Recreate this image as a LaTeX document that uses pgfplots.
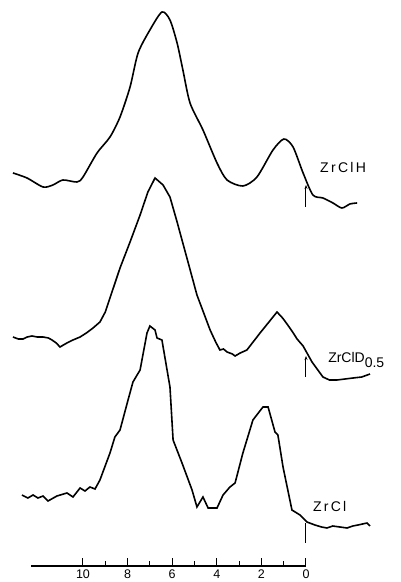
\documentclass[border=0pt]{standalone}
\usepackage{pgfplots}
\pgfplotsset{compat=1.18}
\usepackage{fontspec}
\setmainfont{Liberation Sans}
\newfontfamily\lblfont[LetterSpace=16]{Liberation Sans}
\usetikzlibrary{arrows.meta}
\begin{document}
\begin{tikzpicture}
\begin{axis}[
  scale only axis, width=401pt, height=566pt,
  at={(0pt,16pt)}, anchor=south west,
  xmin=-4.260, xmax=13.722, x dir=reverse,
  ymin=16, ymax=582,
  clip=false,
  axis x line*=bottom, axis y line=none,
  x axis line style={draw=none},
  xtick={0,2,4,6,8,10},
  minor xtick={1,3,5,7,9},
  tick align=inside,
  major tick length=8pt, minor tick length=4.5pt,
  every tick/.style={black, line width=1pt},
  xticklabel style={font=\fontsize{12.5}{14}\selectfont, inner sep=0pt, yshift=-4pt},
  /pgf/number format/assume math mode=true,
]
% ZrClH
\addplot[black, line width=1.6pt, smooth, tension=0.45] coordinates {
(13.14,409) (12.51,404) (11.79,395) (11.35,397) (10.90,402) (10.27,400) (10.00,405)
(9.37,429) (8.79,445) (8.34,465) (7.89,495) (7.53,529) (7.00,552) (6.46,570)
(6.10,562) (5.78,539) (5.52,512) (5.20,479) (4.62,452) (3.99,419) (3.54,402)
(2.83,396) (2.20,405) (1.48,432) (0.99,443) (0.58,435) (0.13,409) (-0.31,387)
(-0.76,384) (-1.21,379) (-1.61,374) (-1.97,378) (-2.29,379)
};
% ZrClD0.5
\addplot[black, line width=1.6pt] coordinates {
(13.14,245) (12.90,243) (12.69,243) (12.50,245) (12.29,246) (12.05,245) (11.79,245)
(11.55,244) (11.39,242) (11.20,239) (11.03,235) (10.88,237) (10.72,239) (10.45,242)
(10.13,245) (9.85,249) (9.55,254) (9.24,260) (9.00,270) (8.79,284) (8.34,314)
(7.89,340) (7.44,367) (7.09,390) (6.77,404) (6.41,397) (6.10,385) (5.78,360)
(5.34,324) (4.89,287) (4.30,252) (4.05,240) (3.86,232) (3.70,233) (3.54,230)
(3.30,228) (3.18,226) (2.95,229) (2.65,232) (2.06,249) (1.30,270) (1.05,264)
(0.85,258) (0.60,250) (0.40,243) (0.13,236) (-0.27,220) (-0.76,205) (-1.05,202)
(-1.39,202) (-1.75,203) (-2.11,204) (-2.50,205) (-2.87,208)
};
% ZrCl
\addplot[black, line width=1.6pt] coordinates {
(12.74,87) (12.47,84) (12.24,87) (12.02,84) (11.79,86) (11.57,81) (11.17,86)
(10.72,89) (10.45,85) (10.13,94) (9.91,91) (9.69,95) (9.46,93) (9.24,102)
(8.79,129) (8.57,145) (8.34,152) (7.98,182) (7.76,200) (7.44,212) (7.13,249)
(7.00,256) (6.77,252) (6.68,244) (6.46,242) (6.10,195) (5.96,142) (5.56,119)
(5.11,92) (4.89,75) (4.62,85) (4.39,74) (3.99,74) (3.72,87) (3.41,95) (3.18,99)
(2.83,129) (2.38,162) (1.93,175) (1.70,175) (1.39,150) (1.26,147) (1.03,115)
(0.63,72) (0.27,67) (-0.04,60) (-0.40,57) (-0.70,55) (-0.94,54) (-1.20,56)
(-1.52,55) (-1.84,54) (-2.10,56) (-2.33,57) (-2.74,59) (-2.87,56)
};
% markers at 0
\addplot[black, line width=1pt, -{Stealth[length=4pt,width=3pt]}] coordinates {(0,375) (0,397)};
\addplot[black, line width=1pt, -{Stealth[length=4pt,width=3pt]}] coordinates {(0,205) (0,226)};
\addplot[black, line width=1pt] coordinates {(0,39) (0,59)};
% baseline of scale
\addplot[black, line width=1.3pt] coordinates {(12.33,16) (0,16)};
% labels
\node[anchor=base west, inner sep=0pt, font=\fontsize{14}{16}\selectfont\lblfont] at (axis cs:-0.63,409) {Zr\,Cl\,H};
\node[anchor=base west, inner sep=0pt, font=\fontsize{14}{16}\selectfont] at (axis cs:-0.99,219) {ZrClD\raisebox{-5pt}{0.5}};
\node[anchor=base west, inner sep=0pt, font=\fontsize{14}{16}\selectfont\lblfont] at (axis cs:-0.31,70) {Zr\,Cl};
\end{axis}
\pgfresetboundingbox
\path (0,0) rectangle (401pt,582pt);
\end{tikzpicture}
\end{document}
